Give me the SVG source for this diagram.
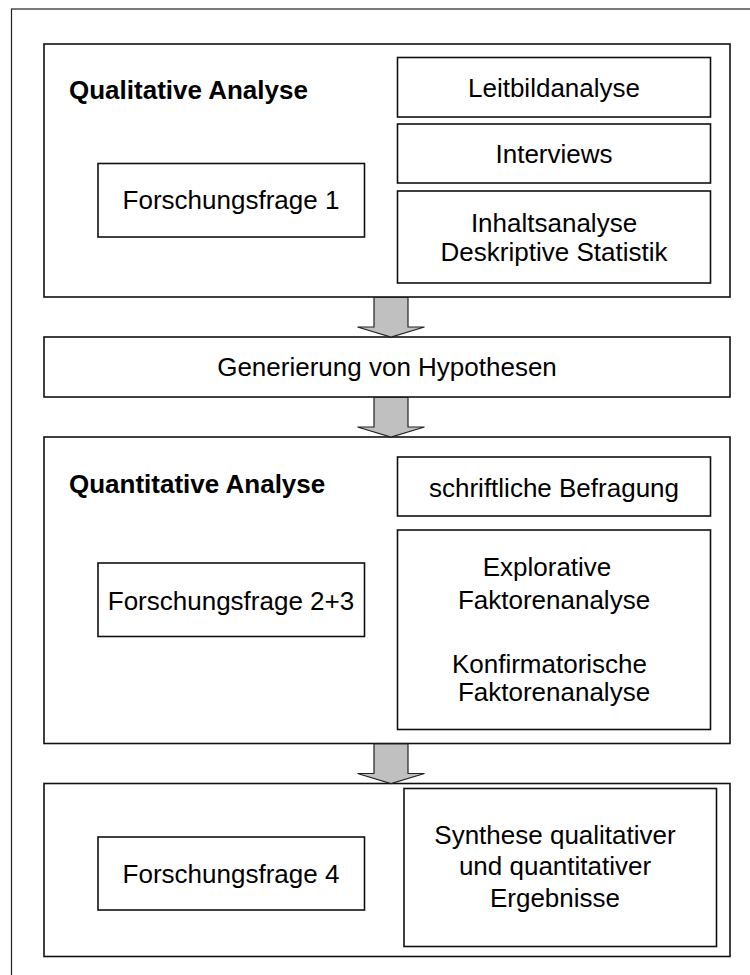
<svg xmlns="http://www.w3.org/2000/svg" width="750" height="975" viewBox="0 0 750 975">
  <style>
    .frame { fill: none; stroke: #222; stroke-width: 1.2; }
    .box { fill: #fff; stroke: #111; stroke-width: 1.6; }
    .lbl { font-family: "Liberation Sans", Arial, sans-serif; font-size: 26px; fill: #000; text-anchor: middle; }
    .head { font-family: "Liberation Sans", Arial, sans-serif; font-size: 26px; font-weight: bold; fill: #000; }
    .arrow { fill: #c0c0c0; stroke: #222; stroke-width: 1.2; stroke-linejoin: miter; }
  </style>

  <!-- outer frame (runs past the right and bottom edge) -->
  <rect class="frame" x="11.5" y="9" width="800" height="1000"/>

  <!-- phase 1 -->
  <g id="qualitative">
    <rect class="box" x="44" y="44" width="686" height="253"/>
    <text class="head" x="69" y="99">Qualitative Analyse</text>
  </g>
  <g id="ff1">
    <rect class="box" x="98" y="163.5" width="266.5" height="73.5"/>
    <text class="lbl" x="231" y="209">Forschungsfrage 1</text>
  </g>
  <g id="leitbild">
    <rect class="box" x="397.5" y="57.5" width="313" height="59.5"/>
    <text class="lbl" x="554" y="97">Leitbildanalyse</text>
  </g>
  <g id="interviews">
    <rect class="box" x="397.5" y="124" width="313" height="59"/>
    <text class="lbl" x="554" y="163">Interviews</text>
  </g>
  <g id="inhalt">
    <rect class="box" x="397.5" y="191" width="313" height="92"/>
    <text class="lbl" x="554" y="232">Inhaltsanalyse</text>
    <text class="lbl" x="554" y="261">Deskriptive Statistik</text>
  </g>

  <!-- hypotheses -->
  <g id="hypothesen">
    <rect class="box" x="44" y="337" width="686" height="60"/>
    <text class="lbl" x="387" y="376">Generierung von Hypothesen</text>
  </g>

  <!-- phase 2 -->
  <g id="quantitative">
    <rect class="box" x="44" y="437" width="686" height="306.5"/>
    <text class="head" x="69" y="493">Quantitative Analyse</text>
  </g>
  <g id="ff23">
    <rect class="box" x="98" y="563" width="266.5" height="73.5"/>
    <text class="lbl" x="231" y="610">Forschungsfrage 2+3</text>
  </g>
  <g id="befragung">
    <rect class="box" x="397.5" y="457" width="313" height="59"/>
    <text class="lbl" x="554" y="497">schriftliche Befragung</text>
  </g>
  <g id="faktoren">
    <rect class="box" x="397.5" y="530" width="313" height="199.5"/>
    <text class="lbl" x="547" y="576">Explorative</text>
    <text class="lbl" x="554" y="609">Faktorenanalyse</text>
    <text class="lbl" x="549.5" y="673">Konfirmatorische</text>
    <text class="lbl" x="554" y="701">Faktorenanalyse</text>
  </g>

  <!-- phase 3 -->
  <g id="synthese-phase">
    <rect class="box" x="44" y="783.5" width="686" height="173"/>
  </g>
  <g id="ff4">
    <rect class="box" x="98" y="837" width="266.5" height="73"/>
    <text class="lbl" x="231" y="883">Forschungsfrage 4</text>
  </g>
  <g id="synthese">
    <rect class="box" x="404" y="788.5" width="312.5" height="158"/>
    <text class="lbl" x="555" y="843.5">Synthese qualitativer</text>
    <text class="lbl" x="555" y="875">und quantitativer</text>
    <text class="lbl" x="555" y="906.5">Ergebnisse</text>
  </g>

  <!-- block arrows between the phases -->
  <g id="connectors">
    <polygon class="arrow" points="374,297.5 408,297.5 408,327 424.5,327 391,337 357.5,327 374,327"/>
    <polygon class="arrow" points="374,397.5 408,397.5 408,427 424.5,427 391,437 357.5,427 374,427"/>
    <polygon class="arrow" points="374,744 408,744 408,773.5 424.5,773.5 391,783.5 357.5,773.5 374,773.5"/>
  </g>
</svg>
